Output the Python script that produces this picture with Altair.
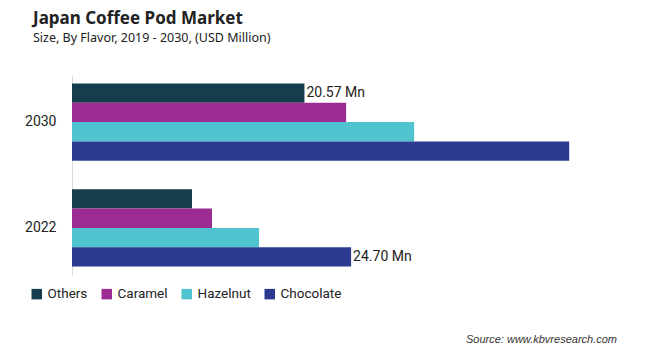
import altair as alt
import pandas as pd

years = ["2030", "2022"]
flavors = ["Others", "Caramel", "Hazelnut", "Chocolate"]
values_2030 = [20.57, 24.26, 30.28, 44.0]
values_2022 = [10.62, 12.39, 16.55, 24.70]
labels_2030 = ["20.57 Mn", "", "", ""]
labels_2022 = ["", "", "", "24.70 Mn"]
colors = ["#153D4E", "#9C2C92", "#4FC3CF", "#2B3A8F"]

rows = []
for f, v, l in zip(flavors, values_2030, labels_2030):
    rows.append({"Year": "2030", "Flavor": f, "Value": v, "Label": l})
for f, v, l in zip(flavors, values_2022, labels_2022):
    rows.append({"Year": "2022", "Flavor": f, "Value": v, "Label": l})
df = pd.DataFrame(rows)

FONT = "Roboto"

y_enc = alt.Y("Year:N", sort=years, title=None,
              scale=alt.Scale(paddingInner=0.27, paddingOuter=0.08),
              axis=alt.Axis(ticks=False, labelFontSize=14, labelFont=FONT, labelColor="#222222",
                            labelPadding=16, domainColor="#d9d9d9", domainWidth=1))
yoff = alt.YOffset("Flavor:N", sort=flavors, scale=alt.Scale(paddingInner=0, paddingOuter=0))

bars = alt.Chart(df).mark_bar().encode(
    x=alt.X("Value:Q", scale=alt.Scale(domain=[0, 50], nice=False), axis=None),
    y=y_enc,
    yOffset=yoff,
    color=alt.Color("Flavor:N", sort=flavors, scale=alt.Scale(domain=flavors, range=colors),
                    legend=alt.Legend(title=None, orient="none", direction="horizontal",
                                      legendX=-42, legendY=212, symbolType="square",
                                      symbolSize=110, symbolStrokeWidth=0, labelFontSize=13.5,
                                      labelFont=FONT, labelColor="#222222", columnPadding=12,
                                      labelOffset=4)),
)

text = alt.Chart(df).mark_text(align="left", baseline="middle", dx=2, fontSize=14,
                               font=FONT, color="#222222").encode(
    x=alt.X("Value:Q"),
    y=alt.Y("Year:N", sort=years),
    yOffset=alt.YOffset("Flavor:N", sort=flavors),
    text="Label:N",
)

source = alt.Chart(pd.DataFrame({"t": ["Source: www.kbvresearch.com"]})).mark_text(
    align="right", baseline="middle", fontSize=11, fontStyle="italic",
    font="Liberation Sans", color="#333333").encode(
    x=alt.value(545), y=alt.value(265), text="t:N")

chart = alt.layer(bars, text, source).properties(
    width=565, height=200,
    background="white",
    padding={"left": 64, "top": 67, "right": 20, "bottom": 77},
    autosize=alt.AutoSizeParams(type="none"),
    title=alt.TitleParams(
        text="Japan Coffee Pod Market",
        subtitle="Size, By Flavor,  2019 - 2030, (USD Million)",
        anchor="start", frame="group", dx=-39, offset=30,
        fontSize=17, fontWeight="bold", font="Noto Sans", color="#222222",
        subtitleFontSize=12.5, subtitleFont="Noto Sans", subtitleColor="#222222",
        subtitlePadding=4),
).configure_view(strokeWidth=0, stroke="transparent")

chart.save("out.html", embed_options={"renderer": "svg", "actions": False})
